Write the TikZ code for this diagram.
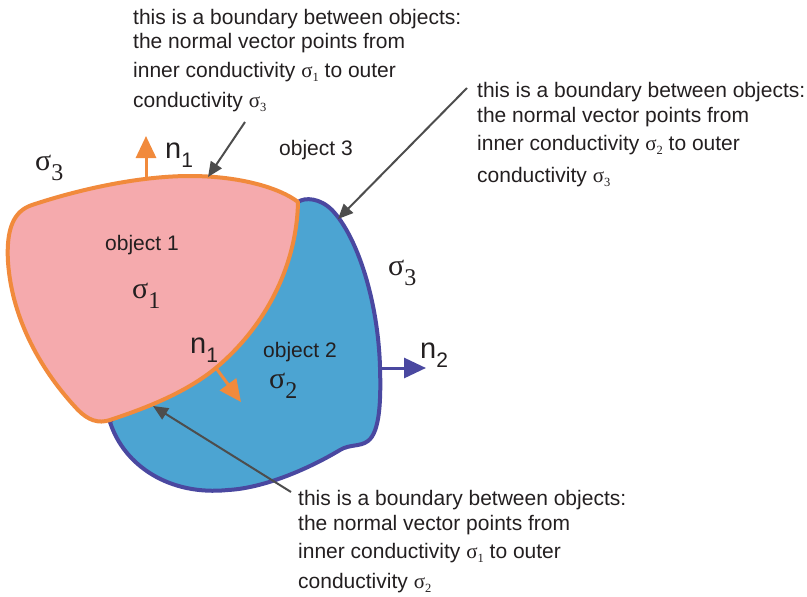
\documentclass[tikz,border=0pt]{standalone}
\usepackage{fontspec}
\setmainfont{Liberation Sans}
\newfontfamily\sigfont{Liberation Serif}
\usetikzlibrary{arrows.meta}
\definecolor{pinkfill}{HTML}{F5AAAD}
\definecolor{orangec}{HTML}{F18A3C}
\definecolor{bluefill}{HTML}{4CA4D2}
\definecolor{bluec}{HTML}{4A48A0}
\definecolor{greyc}{HTML}{4D4D4D}
\definecolor{textc}{HTML}{231F20}
\newcommand\smsig[1]{{\sigfont σ\raisebox{-4pt}{\fontsize{12.5}{12.5}\selectfont #1}}}
\newcommand\bigsig[1]{{\sigfont\fontsize{30}{30}\selectfont σ\raisebox{-10pt}{\fontsize{24}{24}\selectfont #1}}}
\newcommand\nvec[1]{{\fontsize{29}{29}\selectfont n\raisebox{-9pt}{\fontsize{21}{21}\selectfont #1}}}
\tikzset{
  txt/.style={anchor=base west, inner sep=0pt, font=\fontsize{21}{25}\selectfont, text=textc},
  biglab/.style={anchor=base west, inner sep=0pt, text=textc},
  pointer/.style={draw=greyc, line width=2pt, -{Triangle[length=15pt,width=13pt]}},
  normalo/.style={draw=orangec, line width=3pt, -{Triangle[length=22pt,width=20pt]}},
  normalb/.style={draw=bluec, line width=3pt, -{Triangle[length=22pt,width=20pt]}},
  objtwo/.style={draw=bluec, fill=bluefill, line width=4pt, line join=round},
  objone/.style={draw=orangec, fill=pinkfill, line width=4pt, line join=round},
}
\begin{document}
\begin{tikzpicture}[x=1pt,y=-1pt]
\useasboundingbox (0,0) rectangle (807,597);
% object 2
\path[objtwo] (298,202) .. controls (305,197) and (320,198) .. (332,210)
  .. controls (357,236) and (378,300) .. (380,367)
  .. controls (381,400) and (380,432) .. (368,441)
  .. controls (360,447) and (350,444) .. (340,450)
  .. controls (310,468) and (265,488) .. (228,490)
  .. controls (170,496) and (124,466) .. (110,422) -- cycle;
% object 1
\path[objone] (32,205) .. controls (80,189) and (140,176) .. (190,176)
  .. controls (240,176) and (280,188) .. (298,202)
  .. controls (297,260) and (270,322) .. (217,367)
  .. controls (185,394) and (140,410) .. (110,420)
  .. controls (98,424) and (88,420) .. (78,410)
  .. controls (42,372) and (12,320) .. (8,262)
  .. controls (6,228) and (14,211) .. (32,205) -- cycle;
% boundary points
\coordinate (top1) at (146,178);
\coordinate (top1end) at (146,136);
\coordinate (in1) at (216,368);
\coordinate (in1end) at (241,402);
\coordinate (out2) at (380,368);
\coordinate (out2end) at (426,368);
\coordinate (b13) at (208,177);
\coordinate (b23) at (338,219);
\coordinate (b12) at (153,406);
\coordinate (s13) at (245,122);
\coordinate (s23) at (467,88);
\coordinate (s12) at (291,492);
% normals
\draw[normalo] (top1) -- (top1end);
\draw[normalo] (in1) -- (in1end);
\draw[normalb] (out2) -- (out2end);
% pointers
\draw[pointer] (s13) -- (b13);
\draw[pointer] (s23) -- (b23);
\draw[pointer] (s12) -- (b12);
% labels
\node[biglab] (n1top) at (165,158) {\nvec{1}};
\node[biglab] (n1low) at (190,353) {\nvec{1}};
\node[biglab] (n2lab) at (420,358) {\nvec{2}};
\node[biglab] (sig3a) at (35,170) {\bigsig{3}};
\node[biglab] (sig3b) at (388,275) {\bigsig{3}};
\node[biglab] (sig1) at (132,298) {\bigsig{1}};
\node[biglab] (sig2) at (269,388) {\bigsig{2}};
\node[txt] (obj1) at (105,250) {object 1};
\node[txt] (obj2) at (263,357) {object 2};
\node[txt] (obj3) at (279,155) {object 3};
% text block 1
\node[txt] (a1) at (133,24) {this is a boundary between objects:};
\node[txt] (a2) at (133,48) {the normal vector points from};
\node[txt] (a3) at (133,77) {inner conductivity \smsig{1} to outer};
\node[txt] (a4) at (133,107) {conductivity \smsig{3}};
% text block 2
\node[txt] (c1) at (477,97) {this is a boundary between objects:};
\node[txt] (c2) at (477,122) {the normal vector points from};
\node[txt] (c3) at (477,150) {inner conductivity \smsig{2} to outer};
\node[txt] (c4) at (477,182) {conductivity \smsig{3}};
% text block 3
\node[txt] (d1) at (298,505) {this is a boundary between objects:};
\node[txt] (d2) at (298,530) {the normal vector points from};
\node[txt] (d3) at (298,558) {inner conductivity \smsig{1} to outer};
\node[txt] (d4) at (298,588) {conductivity \smsig{2}};
\end{tikzpicture}
\end{document}
